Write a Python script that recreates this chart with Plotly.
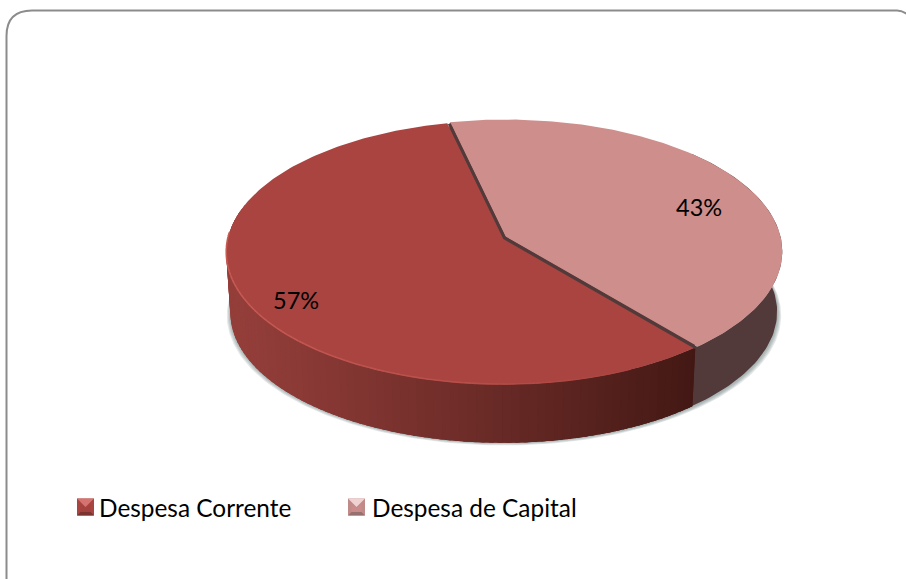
import numpy as np
import plotly.graph_objects as go

categories = ["Despesa Corrente", "Despesa de Capital"]
values = [57.4, 42.6]

# Projection of the flat pie onto the page (page pixels used as axis units)
CX, CY, A, B, K = 504.0, 237.0, 275.0, 130.3, -0.1136
DEPTH, BOTTOM_SCALE = 60.5, 0.985
START = -13.0  # degrees clockwise from 12 o'clock where the capital slice begins
OFFSETS = {"Despesa Corrente": (-1.0, 0.5), "Despesa de Capital": (1.5, -0.5)}
TOP_COL = {"Despesa Corrente": "#a94441", "Despesa de Capital": "#ce8e8c"}
FONT = "Lato"


def project(theta_deg, r=1.0, dx=0.0, dy=0.0, bottom=False):
    t = np.radians(theta_deg)
    X, Y = r * np.sin(t), -r * np.cos(t)
    w = 1 + K * Y
    s = BOTTOM_SCALE if bottom else 1.0
    x = CX + s * A * X / w + dx
    y = CY + s * B * Y / w + dy + (DEPTH if bottom else 0.0)
    return x, y


def mix(c1, c2, f):
    f = float(np.clip(f, 0, 1))
    return "rgb(%d,%d,%d)" % tuple(round(a + (b - a) * f) for a, b in zip(c1, c2))


total = sum(values)
span_cap = 360.0 * values[1] / total
span_cor = 360.0 * values[0] / total
cap_a = (START, START + span_cap)
cor_a = (START + span_cap, START + span_cap + span_cor)

fig = go.Figure()


def poly(x, y, color, line=None, width=0):
    fig.add_trace(go.Scatter(
        x=list(x), y=list(y), mode="lines", fill="toself", fillcolor=color,
        line=dict(color=line or color, width=width), hoverinfo="skip", showlegend=False))


# soft shadow under the drum
th = np.linspace(-110, 110, 221) + 180
for grow in (4.5, 3.5, 2.5, 1.5):
    xs, ys = project(th, bottom=True)
    xs = CX + (xs - CX) * (1 + grow / 270)
    ys = ys + grow * 0.7
    poly(xs, ys, "rgba(95,110,110,0.16)")

# side wall of the capital slice
th = np.linspace(cap_a[0] + 60, cap_a[1] + 1.5, 80)
xt, yt = project(th, dx=OFFSETS[categories[1]][0], dy=OFFSETS[categories[1]][1])
xb, yb = project(th, dx=OFFSETS[categories[1]][0] - 1, dy=OFFSETS[categories[1]][1], bottom=True)
poly(np.r_[xt, xb[::-1]], np.r_[yt, yb[::-1]], "#533a3a")

# side wall of the current slice, shaded strip by strip; each strip overlaps the last
edges = np.linspace(cor_a[0], 285, 90)
ox, oy = OFFSETS[categories[0]]
for a0, a1 in zip(edges[:-1], edges[1:]):
    sub = np.linspace(a0, a1, 4)
    xt, yt = project(sub, dx=ox, dy=oy)
    f = max((xt.mean() - 232) / (690 - 232), 0.0)
    col = mix((148, 62, 58), (66, 24, 20), f ** 1.05)
    sub2 = np.linspace(max(a0 - 2.5, cor_a[0]), a1, 6)
    xt, yt = project(sub2, dx=ox, dy=oy)
    xb, yb = project(sub2, dx=ox, dy=oy, bottom=True)
    poly(np.r_[xt, xb[::-1]], np.r_[yt, yb[::-1]], col)

# dark cut wall seen between the two slices
cx2, cy2 = OFFSETS[categories[1]]
p0 = project(cap_a[0], dx=cx2 - 0.5, dy=cy2 + 1.5)
p1 = project(cap_a[1], dx=cx2 - 1.5, dy=cy2 + 1.5)
p0in = project(cap_a[0], r=0.97, dx=cx2 - 0.5, dy=cy2 + 1.5)
p1in = project(cap_a[1], r=0.99, dx=cx2 - 1.5, dy=cy2 + 1.5)
apex = (CX + 0.5, CY + 1)
fig.add_trace(go.Scatter(x=[p0in[0], apex[0], p1in[0]], y=[p0in[1], apex[1], p1in[1]], mode="lines",
                         line=dict(color="#533a3a", width=6), hoverinfo="skip", showlegend=False))

# top faces
for name, (a0, a1) in zip(categories, (cor_a, cap_a)):
    dx, dy = OFFSETS[name]
    th = np.linspace(a0, a1, 200)
    xs, ys = project(th, dx=dx, dy=dy)
    poly(np.r_[CX + dx, xs, CX + dx], np.r_[CY + dy, ys, CY + dy], TOP_COL[name])

fig.add_trace(go.Scatter(x=[p0[0], apex[0], p1[0]], y=[p0[1], apex[1], p1[1]], mode="lines",
                         line=dict(color="#533a3a", width=3), hoverinfo="skip", showlegend=False))

# lit rim on the front edge of the top face
rim = np.linspace(cor_a[0] + 15, 272, 70)
for a0, a1 in zip(rim[:-1], rim[1:]):
    xs, ys = project(np.array([a0, a1]), dx=ox, dy=oy - 0.5)
    f = (xs.mean() - 232) / (640 - 232)
    fig.add_trace(go.Scatter(x=xs, y=ys, mode="lines",
                             line=dict(color=mix((200, 90, 84), (170, 69, 65), f), width=1.6),
                             hoverinfo="skip", showlegend=False))

# legend entries (their swatches are drawn as bevelled squares below)
for name in categories:
    fig.add_trace(go.Scatter(x=[None], y=[None], mode="markers", name=name,
                             marker=dict(symbol="square", size=1, color="rgba(0,0,0,0)")))


def bevel(x0, y0, s, top, side, bottom, inner):
    b = 3.5
    x1, y1 = x0 + s, y0 + s
    out = []
    paths = [
        (f"M{x0},{y0}H{x1}V{y1}H{x0}Z", side),
        (f"M{x0},{y0}H{x1}L{(x0+x1)/2},{(y0+y1)/2}Z", top),
        (f"M{x0},{y1}H{x1}L{x1-b},{y1-b}H{x0+b}Z", bottom),
        (f"M{x0+b},{y0+b+2}L{(x0+x1)/2},{(y0+y1)/2+1}L{x1-b},{y0+b+2}V{y1-b}H{x0+b}Z", inner),
    ]
    for p, c in paths:
        out.append(dict(type="path", path=p, fillcolor=c, line=dict(width=0), xref="x", yref="y"))
    return out


shapes = [dict(type="path", xref="x", yref="y", line=dict(color="#8c8c8c", width=2),
               path="M6.5,585 L6.5,36 Q6.5,10.5 32,10.5 L897,10.5 Q902,10.5 907,14")]
shapes += bevel(77, 498.5, 17, "#d4736f", "#a94441", "#7c3431", "#a4423f")
shapes += bevel(348, 498.5, 17, "#f0d2d1", "#c08a88", "#96706e", "#c98c8a")

annotations = [
    dict(x=296, y=299.5, xref="x", yref="y", showarrow=False,
         text=f"{round(values[0])}%", font=dict(family=FONT, size=23.5, color="#000")),
    dict(x=699, y=206.5, xref="x", yref="y", showarrow=False,
         text=f"{round(values[1])}%", font=dict(family=FONT, size=23.5, color="#000")),
]

fig.update_layout(
    width=906, height=579, autosize=False,
    margin=dict(l=0, r=0, t=0, b=0),
    paper_bgcolor="white", plot_bgcolor="white",
    xaxis=dict(range=[0, 906], visible=False, fixedrange=True),
    yaxis=dict(range=[579, 0], visible=False, fixedrange=True),
    shapes=shapes, annotations=annotations,
    legend=dict(orientation="h", x=59 / 906, y=1 - 485 / 579, xanchor="left", yanchor="top",
                entrywidth=228, entrywidthmode="pixels", bgcolor="rgba(0,0,0,0)",
                font=dict(family=FONT, size=24.4, color="#000"), itemclick=False, itemdoubleclick=False),
)
fig.write_html("out.html", config={"displayModeBar": False},
               post_script="document.body.style.margin='0';")
